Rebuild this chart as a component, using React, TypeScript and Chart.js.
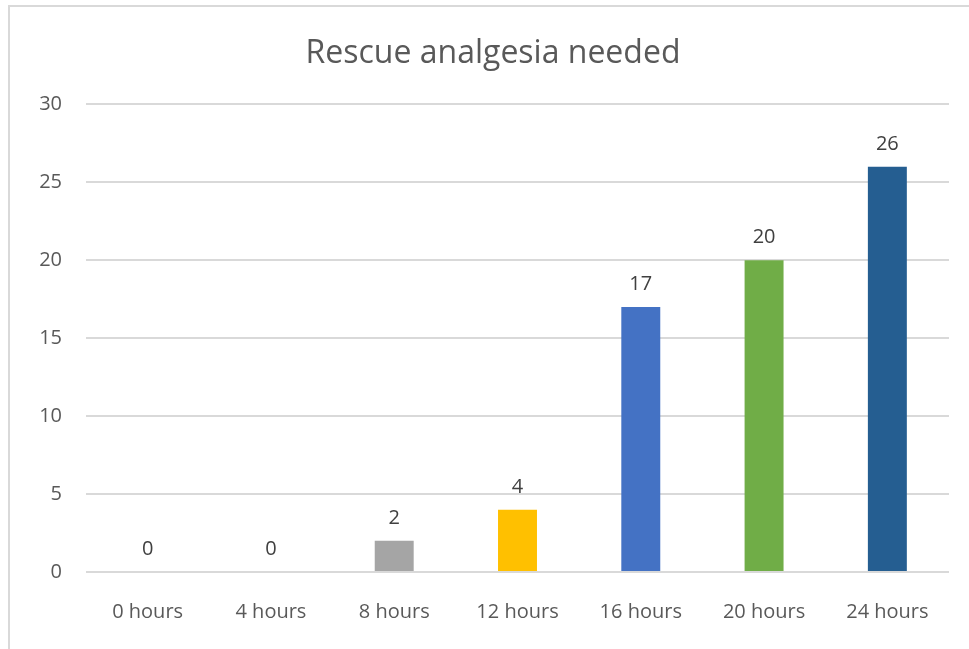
import React, { useEffect, useRef } from "react";
import { Chart, registerables } from "chart.js";

Chart.register(...registerables);

const categories = ["0 hours", "4 hours", "8 hours", "12 hours", "16 hours", "20 hours", "24 hours"];
const values = [0, 0, 2, 4, 17, 20, 26];
const barColors = ["#4472C4", "#ED7D31", "#A5A5A5", "#FFC000", "#4472C4", "#70AD47", "#255E91"];
const yTicks = [0, 5, 10, 15, 20, 25, 30];
const chartTitle = "Rescue analgesia needed";

const FONT = "'Open Sans', 'Noto Sans', sans-serif";

const dataLabelPlugin = {
  id: "dataLabels",
  afterDatasetsDraw(chart: any) {
    const ctx = chart.ctx;
    ctx.save();
    ctx.font = `20px ${FONT}`;
    ctx.fillStyle = "#404040";
    ctx.textAlign = "center";
    ctx.textBaseline = "alphabetic";
    chart.data.datasets.forEach((ds: any, di: number) => {
      const meta = chart.getDatasetMeta(di);
      meta.data.forEach((el: any, i: number) => {
        ctx.fillText(String(ds.data[i]), el.x, el.y - 17);
      });
    });
    ctx.restore();
  },
};

export default function App() {
  const ref = useRef<HTMLCanvasElement | null>(null);
  useEffect(() => {
    if (!ref.current) return;
    const chart = new Chart(ref.current, {
      type: "bar",
      data: {
        labels: categories,
        datasets: [
          {
            data: values,
            backgroundColor: barColors,
            borderWidth: 0,
            barPercentage: 0.316,
            categoryPercentage: 1,
          },
        ],
      },
      options: {
        animation: false,
        responsive: true,
        maintainAspectRatio: false,
        layout: { padding: { left: 37, right: 20, top: 0, bottom: 0 } },
        plugins: {
          legend: { display: false },
          tooltip: { enabled: false },
          title: {
            display: true,
            text: chartTitle,
            color: "#595959",
            font: { family: FONT, size: 32, weight: "normal" },
            padding: { top: 35, bottom: 31 },
          },
        },
        scales: {
          x: {
            grid: { display: false, drawTicks: false },
            border: { display: false },
            ticks: { color: "#595959", font: { family: FONT, size: 20 }, padding: 28 },
            afterFit: (s: any) => {
              s.height = 77;
            },
          },
          y: {
            min: 0,
            max: 30,
            afterBuildTicks: (s: any) => {
              s.ticks = yTicks.map((v) => ({ value: v }));
            },
            grid: { color: "#d9d9d9", lineWidth: 2, drawTicks: false },
            border: { display: false },
            ticks: { color: "#595959", font: { family: FONT, size: 20 }, padding: 24 },
            afterFit: (s: any) => {
              s.width = 49;
            },
          },
        },
      },
      plugins: [dataLabelPlugin],
    });
    return () => chart.destroy();
  }, []);

  return (
    <div style={{ position: "fixed", left: 0, top: 0, width: 969, height: 649, background: "#fff" }}>
      <canvas ref={ref} />
      <div
        style={{
          position: "absolute",
          left: 8,
          top: 5,
          right: 0,
          bottom: 0,
          borderLeft: "2px solid #d9d9d9",
          borderTop: "2px solid #d9d9d9",
          pointerEvents: "none",
        }}
      />
    </div>
  );
}
